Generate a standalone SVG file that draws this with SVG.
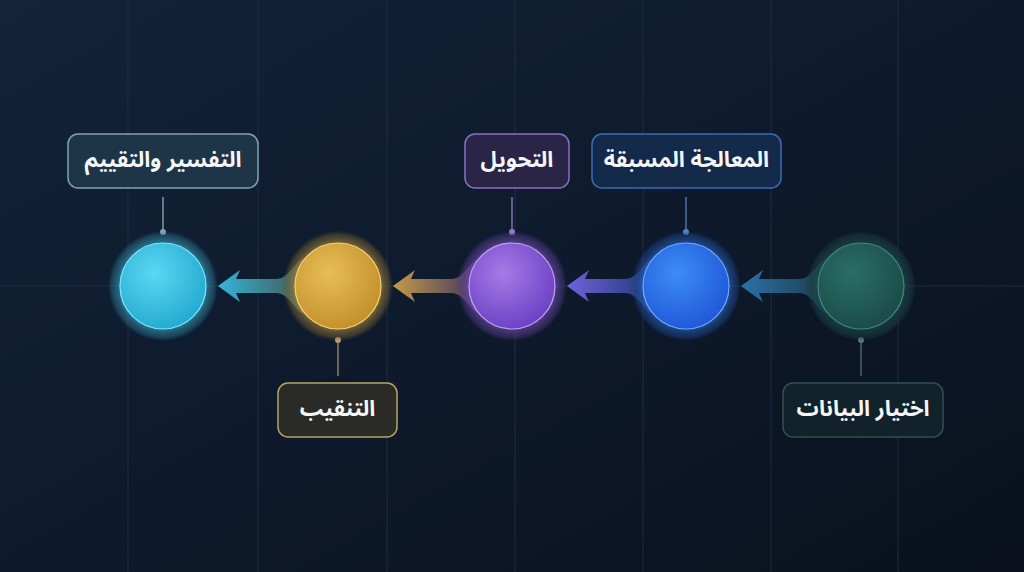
<svg xmlns="http://www.w3.org/2000/svg" width="1024" height="572" viewBox="0 0 1024 572">
<defs>
<linearGradient id="bg" x1="0" y1="0" x2="1" y2="1">
<stop offset="0" stop-color="#13233a"/><stop offset="0.5" stop-color="#0e1a2c"/><stop offset="1" stop-color="#0a111d"/>
</linearGradient>
<filter id="glow" x="-50%" y="-50%" width="200%" height="200%"><feGaussianBlur stdDeviation="5"/></filter>
<filter id="halo" x="-50%" y="-50%" width="200%" height="200%"><feGaussianBlur stdDeviation="1.5"/></filter>
<radialGradient id="gc" cx="0.4" cy="0.35" r="0.7"><stop offset="0" stop-color="#5ad8f2"/><stop offset="1" stop-color="#22a8d0"/></radialGradient>
<radialGradient id="gy" cx="0.4" cy="0.35" r="0.7"><stop offset="0" stop-color="#e8bd55"/><stop offset="1" stop-color="#c28f2a"/></radialGradient>
<radialGradient id="gp" cx="0.4" cy="0.35" r="0.7"><stop offset="0" stop-color="#a77ae6"/><stop offset="1" stop-color="#6a3fc4"/></radialGradient>
<radialGradient id="gb" cx="0.4" cy="0.35" r="0.7"><stop offset="0" stop-color="#3d8cf5"/><stop offset="1" stop-color="#1f56d8"/></radialGradient>
<radialGradient id="gt" cx="0.4" cy="0.35" r="0.7"><stop offset="0" stop-color="#2a6e66"/><stop offset="1" stop-color="#1a4a48"/></radialGradient>
<linearGradient id="a1" x1="0" y1="0" x2="1" y2="0"><stop offset="0" stop-color="#38c6ea"/><stop offset="1" stop-color="#4a5a50"/></linearGradient>
<linearGradient id="a2" x1="0" y1="0" x2="1" y2="0"><stop offset="0" stop-color="#d7a94c"/><stop offset="1" stop-color="#3f3166"/></linearGradient>
<linearGradient id="a3" x1="0" y1="0" x2="1" y2="0"><stop offset="0" stop-color="#7a6af0"/><stop offset="1" stop-color="#1e3a78"/></linearGradient>
<linearGradient id="a4" x1="0" y1="0" x2="1" y2="0"><stop offset="0" stop-color="#2f7ab8"/><stop offset="1" stop-color="#1b4046"/></linearGradient>
</defs>
<style>
.lbl{font-family:"Noto Sans Arabic","DejaVu Sans","Noto Sans",sans-serif;font-weight:bold;font-size:22px;fill:#f4f6fa;text-anchor:middle;dominant-baseline:central}
.grid{stroke:#223049;stroke-width:1;opacity:0.8}
.stem{stroke-width:1.5}
.box{stroke-width:1.5}
</style>
<rect width="1024" height="572" fill="url(#bg)"/>
<g id="grid">
<line class="grid" x1="128" y1="0" x2="128" y2="572"/>
<line class="grid" x1="258" y1="0" x2="258" y2="572"/>
<line class="grid" x1="387" y1="0" x2="387" y2="572"/>
<line class="grid" x1="515" y1="0" x2="515" y2="572"/>
<line class="grid" x1="643" y1="0" x2="643" y2="572"/>
<line class="grid" x1="771" y1="0" x2="771" y2="572"/>
<line class="grid" x1="898" y1="0" x2="898" y2="572"/>
<line class="grid" x1="0" y1="286" x2="1024" y2="286"/>
</g>
<g id="connectors">
<path d="M218,286 L240,270 L236,279 L276,279 C290,279 294,260 308,256 L308,316 C294,312 290,293 276,293 L236,293 L240,302 Z" fill="url(#a1)" opacity="0.9"/>
<path d="M393,286 L415,270 L411,279 L451,279 C465,279 469,260 483,256 L483,316 C469,312 465,293 451,293 L411,293 L415,302 Z" fill="url(#a2)" opacity="0.9"/>
<path d="M567,286 L589,270 L585,279 L625,279 C639,279 643,260 657,256 L657,316 C643,312 639,293 625,293 L585,293 L589,302 Z" fill="url(#a3)" opacity="0.9"/>
<path d="M741,286 L763,270 L759,279 L799,279 C813,279 817,260 831,256 L831,316 C817,312 813,293 799,293 L759,293 L763,302 Z" fill="url(#a4)" opacity="0.9"/>
</g>
<g id="stems">
<line class="stem" x1="163" y1="197" x2="163" y2="232" stroke="#7f98aa"/><circle cx="163" cy="232" r="3" fill="#8aa4b4"/>
<line class="stem" x1="512" y1="197" x2="512" y2="232" stroke="#8270b0"/><circle cx="512" cy="232" r="3" fill="#9080c4"/>
<line class="stem" x1="686" y1="197" x2="686" y2="232" stroke="#4a72b0"/><circle cx="686" cy="232" r="3" fill="#5a86cc"/>
<line class="stem" x1="338" y1="340" x2="338" y2="376" stroke="#8a8070"/><circle cx="338" cy="340" r="3" fill="#b8a070"/>
<line class="stem" x1="861" y1="340" x2="861" y2="376" stroke="#4a6470"/><circle cx="861" cy="340" r="3" fill="#5a7a80"/>
</g>
<g id="node-interpretation">
<circle cx="163" cy="286" r="53" fill="#2a6a80" opacity="0.45" filter="url(#halo)"/>
<circle cx="163" cy="286" r="45" fill="#3cc8ec" opacity="0.6" filter="url(#glow)"/>
<circle cx="163" cy="286" r="43" fill="url(#gc)" stroke="#7fe6ff" stroke-width="1.2"/>
<rect class="box" x="68" y="134" width="190" height="54" rx="10" fill="#1e3447" stroke="#7fa2b6"/>
<text class="lbl" x="163" y="160">التفسير والتقييم</text>
</g>
<g id="node-mining">
<circle cx="338" cy="286" r="53" fill="#6a5a30" opacity="0.45" filter="url(#halo)"/>
<circle cx="338" cy="286" r="45" fill="#e0b040" opacity="0.55" filter="url(#glow)"/>
<circle cx="338" cy="286" r="43" fill="url(#gy)" stroke="#f5d27a" stroke-width="1.2"/>
<rect class="box" x="278" y="383" width="119" height="54" rx="10" fill="#2a2a26" stroke="#b9a264"/>
<text class="lbl" x="337.5" y="409">التنقيب</text>
</g>
<g id="node-transformation">
<circle cx="512" cy="286" r="53" fill="#4a3a80" opacity="0.45" filter="url(#halo)"/>
<circle cx="512" cy="286" r="45" fill="#9b5fe0" opacity="0.55" filter="url(#glow)"/>
<circle cx="512" cy="286" r="43" fill="url(#gp)" stroke="#c4a2f5" stroke-width="1.2"/>
<rect class="box" x="465" y="134" width="104" height="54" rx="10" fill="#2a2546" stroke="#8a6fc2"/>
<text class="lbl" x="517" y="160">التحويل</text>
</g>
<g id="node-preprocessing">
<circle cx="686" cy="286" r="53" fill="#1f3c78" opacity="0.5" filter="url(#halo)"/>
<circle cx="686" cy="286" r="45" fill="#2f7cf0" opacity="0.6" filter="url(#glow)"/>
<circle cx="686" cy="286" r="43" fill="url(#gb)" stroke="#6eaaff" stroke-width="1.2"/>
<rect class="box" x="592" y="134" width="189" height="54" rx="10" fill="#142a4a" stroke="#3c6cb4"/>
<text class="lbl" x="686.5" y="160">المعالجة المسبقة</text>
</g>
<g id="node-selection">
<circle cx="861" cy="286" r="53" fill="#1e3a40" opacity="0.55" filter="url(#halo)"/>
<circle cx="861" cy="286" r="45" fill="#1f5c58" opacity="0.5" filter="url(#glow)"/>
<circle cx="861" cy="286" r="43" fill="url(#gt)" stroke="#3d8a80" stroke-width="1.2"/>
<rect class="box" x="783" y="383" width="160" height="54" rx="10" fill="#12222a" stroke="#2f5252"/>
<text class="lbl" x="863" y="409">اختيار البيانات</text>
</g>
</svg>
